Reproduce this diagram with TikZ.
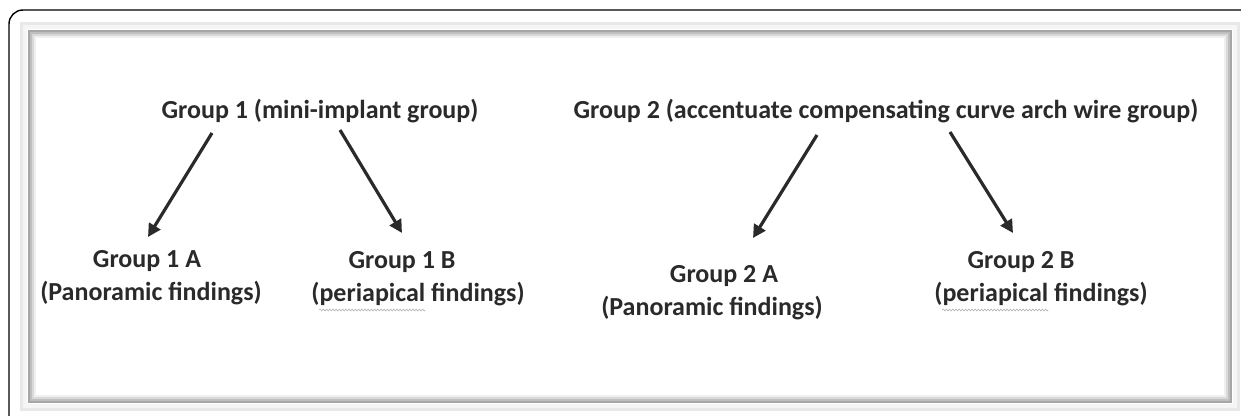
\documentclass[tikz,border=0pt]{standalone}
\usepackage{fontspec}
\setmainfont{Carlito}
\usepackage{tikz}
\usetikzlibrary{arrows.meta, decorations.pathmorphing}

\definecolor{ink}{HTML}{2A2A2A}

\tikzset{
    grouptext/.style = {text = ink, font = \bfseries\fontsize{26}{33}\selectfont,
        inner sep = 0pt, anchor = base},
    grouparrow/.style = {draw = ink, line width = 3.2pt,
        -{Triangle[length = 13pt, width = 13pt]}},
    spellwave/.style = {draw = gray!60, line width = 0.6pt,
        decorate, decoration = {snake, amplitude = 0.9pt, segment length = 3.2pt}}
}

\begin{document}
\begin{tikzpicture}[x = 1pt, y = -1pt]
    \useasboundingbox (0, 0) rectangle (1241, 415);
    \clip (0, 0) rectangle (1241, 415);

    % outer frame
    \draw[line width = 1.4pt, rounded corners = 14pt]
        (9, 440) -- (9, 10) -- (1260, 10);

    % inner frame with soft shadow
    \fill[gray!18] (20, 22) rectangle (1240, 411);
    \fill[gray!8] (23, 25) rectangle (1237, 408);
    \fill[white] (27, 29) rectangle (1233, 404);
    \draw[gray!70, line width = 2pt] (29, 31) rectangle (1231, 402);
    \draw[gray!50, line width = 2pt] (31, 33) rectangle (1229, 400);
    \draw[gray!30, line width = 2pt] (33, 35) rectangle (1227, 398);
    \draw[gray!12, line width = 2pt] (35, 37) rectangle (1225, 396);

    % upper groups
    \node[grouptext] (g1) at (320, 118) {Group 1 (mini-implant group)};
    \node[grouptext] (g2) at (886, 118)
        {Group 2 (accentuate compensating curve arch wire group)};

    % subgroups
    \node[grouptext] (g1a) at (147, 267) {Group 1 A};
    \node[grouptext] (g1anote) at (151, 300) {(Panoramic findings)};
    \node[grouptext] (g1b) at (402, 268) {Group 1 B};
    \node[grouptext] (g1bnote) at (418, 301) {(periapical findings)};
    \node[grouptext] (g2a) at (724, 282) {Group 2 A};
    \node[grouptext] (g2anote) at (712, 315) {(Panoramic findings)};
    \node[grouptext] (g2b) at (1021, 268) {Group 2 B};
    \node[grouptext] (g2bnote) at (1041, 301) {(periapical findings)};

    % arrows
    \draw[grouparrow] ([xshift = -108pt, yshift = -15pt]g1.base)
        -- ([xshift = 1pt, yshift = 30pt]g1a.base);
    \draw[grouparrow] ([xshift = 20pt, yshift = -12pt]g1.base)
        -- ([xshift = 0pt, yshift = 35pt]g1b.base);
    \draw[grouparrow] ([xshift = -69pt, yshift = -17pt]g2.base)
        -- ([xshift = 29pt, yshift = 44pt]g2a.base);
    \draw[grouparrow] ([xshift = 64pt, yshift = -14pt]g2.base)
        -- ([xshift = -8pt, yshift = 35pt]g2b.base);

    % spell-check underlines
    \draw[spellwave] ([xshift = 8pt, yshift = -9pt]g1bnote.base west)
        -- ++(106, 0);
    \draw[spellwave] ([xshift = 8pt, yshift = -9pt]g2bnote.base west)
        -- ++(106, 0);
\end{tikzpicture}
\end{document}
